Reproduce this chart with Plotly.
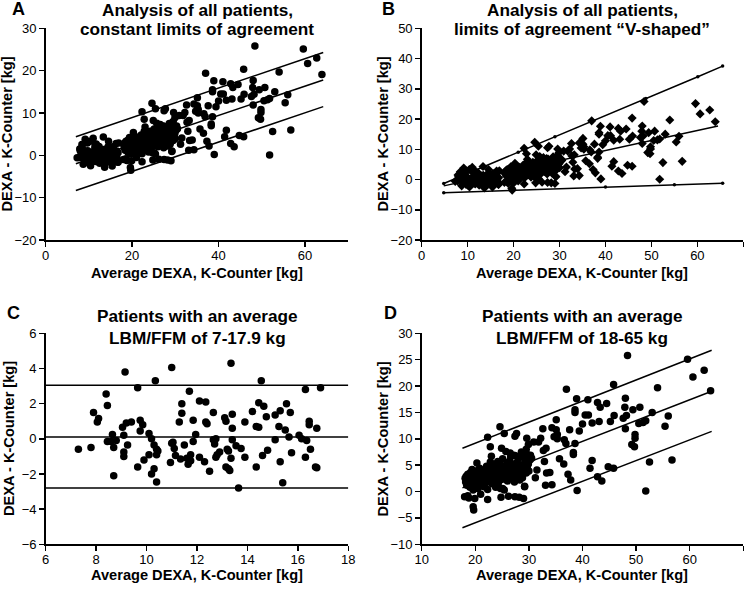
import plotly.graph_objects as go

W, H = 750, 589
FONT = "Liberation Sans, Arial, Helvetica, sans-serif"

# ---------------- data ----------------
# Panel C: patients with an average LBM/FFM of 7-17.9 kg  (average, difference)
c_points = [
    (7.3, -0.6), (7.8, -0.5), (7.9, 1.5), (8.05, 0.95), (8.1, 1.15), (8.4, 2.55), (8.45, 1.9), (8.45, -0.15),
    (8.6, -0.15), (8.65, 0.25), (8.7, -0.5), (8.7, -2.1), (8.8, -0.1), (9.05, 0.65), (9.1, -0.75), (9.1, -1.0),
    (9.15, 3.8), (9.1, 0.2), (9.2, 0.9), (9.25, -0.35), (9.4, 0.95), (9.65, 2.9), (9.65, -1.6), (9.75, 0.45),
    (9.75, 1.05), (9.85, 0.8), (9.9, -1.2), (10.1, 0.3), (10.1, -0.9), (10.2, 0.0), (10.2, -2.0), (10.3, -1.7),
    (10.3, -0.35), (10.35, 3.3), (10.4, -0.6), (10.4, -2.45), (10.4, -0.9), (10.45, -0.7), (11.0, 4.05),
    (10.95, -1.35), (11.0, -0.25), (11.05, -0.2), (11.1, -0.55), (11.15, -0.95), (11.3, 0.95), (11.35, -1.15),
    (11.4, 2.0), (11.4, 1.45), (11.5, -0.35), (11.6, -1.1), (11.65, -1.45), (11.7, 2.7), (11.75, -1.25),
    (11.75, -0.9), (11.85, 1.05), (11.85, -0.15), (11.95, 0.25), (12.1, 2.15), (12.1, -1.05), (12.3, -1.3),
    (12.35, 2.1), (12.4, 0.85), (12.35, 0.95), (12.5, -1.85), (12.65, -0.05), (12.65, 1.5), (12.7, -0.3),
    (12.75, 0.0), (12.75, -1.05), (12.8, -0.9), (12.9, -0.75), (13.1, 1.2), (13.15, 1.0), (13.15, -1.6),
    (13.2, -0.6), (13.25, -1.7), (13.25, -0.7), (13.3, -1.8), (13.35, 4.3), (13.35, -1.1), (13.4, -0.05),
    (13.4, 0.6), (13.4, 1.4), (13.55, -0.4), (13.65, -2.8), (13.75, -0.55), (13.9, -1.05), (13.9, 0.95),
    (14.2, 1.55), (14.35, -1.6), (14.35, 0.7), (14.45, 0.65), (14.45, 2.05), (14.55, 3.3), (14.6, -0.95),
    (14.65, 1.85), (14.75, 1.25), (14.8, -0.65), (15.1, 1.35), (15.1, -0.05), (15.25, 0.7), (15.3, -1.3),
    (15.3, 1.6), (15.4, -2.5), (15.5, 0.5), (15.55, 2.0), (15.65, 0.1), (15.7, 1.5), (15.75, -0.8),
    (16.05, 0.2), (16.15, 0.0), (16.3, -1.05), (16.3, 2.8), (16.35, -0.1), (16.45, 1.0), (16.45, 0.8),
    (16.5, -0.6), (16.7, -1.6), (16.75, -1.65), (16.75, 0.6), (16.9, 2.9),
]

# Panel D: patients with an average LBM/FFM of 18-65 kg  (average, difference)
d_points_sparse = [
    (48.4, 25.8), (59.6, 25.1), (60.6, 21.7), (62.7, 23.0), (63.9, 19.1), (54.0, 19.7), (45.8, 20.3),
    (37.0, 19.4), (38.9, 17.6), (41.0, 17.4), (42.8, 16.9), (43.3, 16.0), (44.5, 16.7), (48.0, 17.7),
    (47.9, 16.0), (50.7, 16.0), (40.5, 14.5), (41.1, 14.5), (38.6, 15.5), (38.6, 15.0), (35.1, 13.6),
    (43.1, 13.3), (45.2, 13.3), (45.9, 14.4), (47.6, 13.9), (48.2, 14.4), (48.0, 11.9), (49.4, 15.5),
    (53.0, 15.0), (51.8, 13.4), (50.5, 12.9), (51.3, 13.1), (55.4, 12.4), (56.0, 14.3), (49.8, 10.8),
    (49.8, 10.1), (49.2, 8.9), (49.7, 8.5), (41.8, 13.0), (39.4, 11.5), (40.0, 12.8), (32.6, 11.9),
    (34.3, 12.1), (35.1, 11.7), (35.3, 10.8), (34.7, 10.4), (35.3, 10.0), (36.6, 9.8), (36.9, 9.1),
    (38.6, 9.1), (37.6, 11.7), (29.6, 10.1), (29.9, 8.9), (30.9, 9.4), (31.8, 9.4), (32.2, 10.1),
    (35.7, 6.2), (36.5, 5.2), (37.3, 3.3), (37.8, 2.2), (38.3, 7.4), (38.3, 7.0), (39.0, 0.2), (41.8, 5.9),
    (41.4, 4.4), (42.8, 2.8), (43.6, 2.0), (44.8, 4.7), (45.8, 4.4), (52.5, 5.6), (56.7, 6.0), (51.8, 0.1),
    (32.9, 5.7), (33.3, 3.5), (33.9, 3.6), (33.1, 1.2), (34.3, 1.3), (31.5, 4.1), (31.2, 2.6), (30.5, 6.3),
    (32.7, 7.8), (33.2, 8.2), (22.3, 10.3), (24.6, 12.3), (25.4, 11.0), (27.4, 10.5), (27.7, 11.0),
    (22.8, 8.5), (24.9, 8.2), (25.7, 7.6), (26.5, 7.3), (27.5, 6.8), (28.6, 7.5), (29.5, 8.0), (30.3, 6.9),
    (29.0, -1.3), (28.2, -1.1), (27.4, -1.0), (26.2, -0.9), (24.8, -1.1), (22.3, -1.5), (25.1, 0.6),
    (24.7, 0.6), (28.8, 2.6), (19.6, -2.9), (19.7, -3.5), (18.0, -1.0), (18.6, -0.8), (29.2, 1.0),
    (29.7, 4.4), (29.2, 4.7),
]
d_points_cluster = [
    (18.1, 2.5), (18.2, 1.8), (18.3, 2.9), (18.4, 1.2), (18.5, 2.2), (18.6, 3.3), (18.7, 1.5), (18.8, -1.2),
    (18.9, 2.8), (19.0, 0.8), (19.1, 3.6), (19.2, 2.0), (19.3, 1.0), (19.4, 4.2), (19.5, 2.6), (19.6, 0.3),
    (19.7, 3.1), (19.8, 1.6), (19.9, -1.3), (20.0, 2.3), (20.1, 3.9), (20.2, 1.2), (20.3, 5.4), (20.4, 2.8),
    (20.5, 0.6), (20.6, 3.4), (20.7, 1.9), (20.8, 4.4), (20.9, 2.4), (21.0, -0.5), (21.1, 3.0), (21.2, 1.4),
    (21.3, 4.0), (21.5, 2.1), (21.6, 0.9), (21.7, 3.5), (21.8, 2.7), (22.0, 1.7), (22.1, 4.8), (22.2, 3.2),
    (22.3, 0.4), (22.4, 2.5), (22.5, 4.2), (22.6, 1.9), (22.7, 3.7), (22.8, 5.6), (22.9, 2.9), (23.0, 6.7),
    (23.1, 1.5), (23.2, 4.5), (23.3, 3.3), (23.5, 2.2), (23.6, 5.2), (23.7, 3.9), (23.8, 0.8), (23.9, 4.9),
    (24.0, 2.8), (24.1, 3.8), (24.2, 5.7), (24.3, 1.6), (24.4, 4.3), (24.6, 3.1), (24.8, 5.0), (24.9, 2.3),
    (25.0, 4.0), (25.1, 6.2), (25.2, 3.4), (25.4, 0.3), (25.5, 4.6), (25.6, 2.6), (25.8, 3.9), (25.9, 5.4),
    (26.0, 2.0), (26.1, 4.3), (26.2, 3.2), (26.4, 5.8), (26.5, 3.8), (26.6, 6.6), (26.7, 2.7), (26.8, 4.8),
    (27.0, 3.5), (27.1, 5.2), (27.2, 6.9), (27.3, 1.8), (27.5, 4.1), (27.6, 2.9), (27.8, 5.5), (27.9, 3.4),
    (28.0, 6.3), (28.2, 4.6), (28.3, 2.2), (28.5, 5.1), (28.6, 3.7), (28.8, 6.5), (29.0, 4.2), (29.2, 0.9),
    (29.3, 5.8), (29.5, 3.5), (29.7, 7.0), (29.9, 5.2), (30.0, 3.9), (30.2, 6.0),
]

c_x = [p[0] for p in c_points]
c_y = [p[1] for p in c_points]
d_points = d_points_sparse + d_points_cluster
d_x = [p[0] for p in d_points]
d_y = [p[1] for p in d_points]
all_x = c_x + d_x
all_y = c_y + d_y

# Regression / limits-of-agreement lines
a_line_x = [7.0, 64.2]
a_upper_y = [4.4, 24.3]
a_mean_y = [-2.0, 17.8]
a_lower_y = [-8.3, 11.5]

b_upper_x = [4.8, 13.0, 21.0, 29.0, 37.0, 48.8, 60.1, 65.5]
b_upper_y = [-1.3, 3.9, 9.0, 14.1, 19.3, 26.8, 34.0, 37.5]
b_mean_x = [4.8, 64.5]
b_mean_y = [-2.1, 17.7]
b_lower_x = [4.8, 20.0, 40.0, 55.0, 65.5]
b_lower_y = [-4.4, -3.6, -2.5, -1.7, -1.2]

c_line_x = [6, 18]
c_upper_y = [3.05, 3.05]
c_mean_y = [0.1, 0.1]
c_lower_y = [-2.8, -2.8]

d_line_x = [17.6, 64.1]
d_upper_y = [8.2, 26.8]
d_mean_y = [0.7, 19.0]
d_lower_y = [-6.85, 11.4]

titles = {
    "A": ("Analysis of all patients,", "constant limits of agreement"),
    "B": ("Analysis of all patients,", "limits of agreement \u201cV-shaped\u201d"),
    "C": ("Patients with an average", "LBM/FFM of 7-17.9 kg"),
    "D": ("Patients with an average", "LBM/FFM of 18-65 kg"),
}
x_title = "Average DEXA, K-Counter [kg]"
y_title = "DEXA - K-Counter [kg]"

# ---------------- figure ----------------
fig = go.Figure()


def add_points(x, y, ax, symbol="circle", size=7.5):
    fig.add_trace(go.Scatter(
        x=x, y=y, mode="markers", xaxis=ax[0], yaxis=ax[1],
        marker=dict(symbol=symbol, size=size, color="black", line=dict(width=0)),
        showlegend=False, hoverinfo="skip"))


def add_line(x, y, ax, markers=False):
    fig.add_trace(go.Scatter(
        x=x, y=y, mode="lines+markers" if markers else "lines", xaxis=ax[0], yaxis=ax[1],
        line=dict(color="black", width=1.5),
        marker=dict(size=3.5, color="black"),
        showlegend=False, hoverinfo="skip"))


A = ("x", "y")
B = ("x2", "y2")
C = ("x3", "y3")
D = ("x4", "y4")

add_points(all_x, all_y, A)
for yy in (a_upper_y, a_mean_y, a_lower_y):
    add_line(a_line_x, yy, A)

add_points(all_x, all_y, B, symbol="diamond", size=7)
add_line(b_upper_x, b_upper_y, B, markers=True)
add_line(b_mean_x, b_mean_y, B)
add_line(b_lower_x, b_lower_y, B, markers=True)

add_points(c_x, c_y, C)
for yy in (c_upper_y, c_mean_y, c_lower_y):
    add_line(c_line_x, yy, C)

add_points(d_x, d_y, D)
for yy in (d_upper_y, d_mean_y, d_lower_y):
    add_line(d_line_x, yy, D)


def px(xp):
    return xp / W


def py(yp):
    return 1 - yp / H


LEFT = [px(45.6), px(348.3)]
RIGHT = [px(421.7), px(743.3)]
TOP = [py(240.0), py(28.3)]
BOTTOM = [py(544.3), py(333.3)]

axis_common = dict(
    showline=True, linecolor="black", linewidth=1.5,
    ticks="outside", ticklen=5, tickwidth=1.5, tickcolor="black",
    showgrid=False, zeroline=False, automargin=False,
    tickfont=dict(family=FONT, size=13, color="black"),
)
xaxis_extra = dict(ticklabelstandoff=-2)

fig.update_layout(
    template="none",
    width=W, height=H, autosize=False,
    margin=dict(l=0, r=0, t=0, b=0, pad=0),
    paper_bgcolor="white", plot_bgcolor="white",
    font=dict(family=FONT, color="black"),
    showlegend=False,
    xaxis=dict(domain=LEFT, range=[0, 70], tickvals=[0, 20, 40, 60], anchor="y", **axis_common, **xaxis_extra),
    yaxis=dict(domain=TOP, range=[-20, 30], dtick=10, anchor="x", **axis_common),
    xaxis2=dict(domain=RIGHT, range=[0, 70], dtick=10, anchor="y2", **axis_common, **xaxis_extra),
    yaxis2=dict(domain=TOP, range=[-20, 50], dtick=10, anchor="x2", **axis_common),
    xaxis3=dict(domain=LEFT, range=[6, 18], dtick=2, anchor="y3", **axis_common, **xaxis_extra),
    yaxis3=dict(domain=BOTTOM, range=[-6, 6], dtick=2, anchor="x3", **axis_common),
    xaxis4=dict(domain=RIGHT, range=[10, 70], dtick=10, anchor="y4", **axis_common, **xaxis_extra),
    yaxis4=dict(domain=BOTTOM, range=[-10, 30], dtick=5, anchor="x4", **axis_common),
)

anns = []


def ann(text, x, y, size, bold=True, angle=0):
    anns.append(dict(
        text=f"<b>{text}</b>" if bold else text,
        x=px(x), y=py(y), xref="paper", yref="paper",
        xanchor="center", yanchor="middle", showarrow=False, textangle=angle,
        font=dict(family=FONT, size=size, color="black")))


panel_pos = {
    "A": dict(letter=(18.3, 9.2), cx=197, tline=(10, 29.5), xt=273, yt=(6.5, 134)),
    "B": dict(letter=(388.3, 9.2), cx=582, tline=(10, 29.5), xt=273, yt=(382.5, 134)),
    "C": dict(letter=(13.3, 313.3), cx=197, tline=(316, 337.5), xt=574.5, yt=(9, 439)),
    "D": dict(letter=(390, 312.5), cx=582, tline=(316, 337.5), xt=574.5, yt=(382.5, 439)),
}

for key, pos in panel_pos.items():
    ann(key, pos["letter"][0], pos["letter"][1], 18)
    ann(titles[key][0], pos["cx"], pos["tline"][0], 17.2)
    ann(titles[key][1], pos["cx"], pos["tline"][1], 17.2)
    ann(x_title, pos["cx"], pos["xt"], 14.6)
    ann(y_title, pos["yt"][0], pos["yt"][1], 14.6, angle=-90)

fig.update_layout(annotations=anns)

fig.write_html(
    "out.html",
    config={"displayModeBar": False, "staticPlot": True},
    post_script="document.body.style.margin='0';document.body.style.overflow='hidden';",
)
